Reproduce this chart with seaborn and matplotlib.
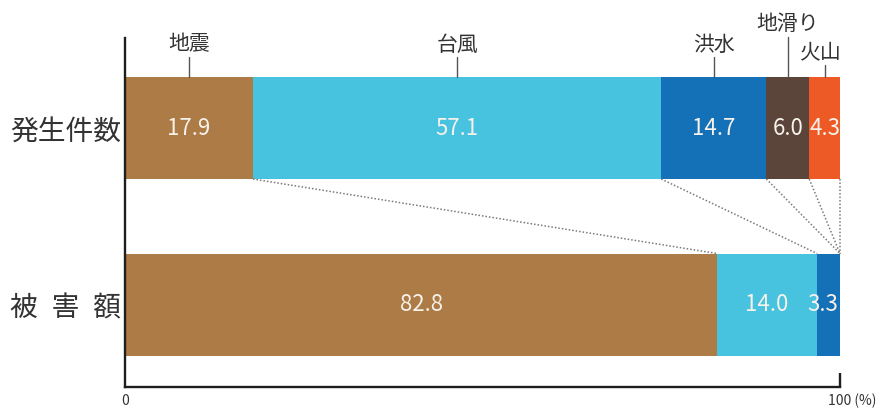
import matplotlib
matplotlib.use("Agg")
import matplotlib.pyplot as plt
import matplotlib.transforms as mtransforms
import seaborn as sns
import pandas as pd
import numpy as np

# data
rows = ["発生件数", "被害額"]
row_labels = ["発生件数", "被\u2002害\u2002額"]
categories = ["地震", "台風", "洪水", "地滑り", "火山"]
counts = [17.9, 57.1, 14.7, 6.0, 4.3]
damage = [82.8, 14.0, 3.3, 0.0, 0.0]
my_palette = ["#ad7b46", "#48c3df", "#1571b7", "#5b4439", "#ee5a26"]

sns.set_style("white")
plt.rcParams['font.family'] = ['Noto Sans CJK JP', 'DejaVu Sans']

values = {rows[0]: counts, rows[1]: damage}
recs = []
for r in rows:
    cum = np.cumsum(values[r])
    for i, c in enumerate(categories):
        recs.append({"row": r, "cat": c, "value": values[r][i], "cum": cum[i],
                     "start": cum[i] - values[r][i]})
df = pd.DataFrame(recs)

fig = plt.figure(figsize=(8.78, 4.09), dpi=100)
ax = fig.add_axes([125/878, 1 - 387/409, 715/878, 349/409])

bar_w = 0.578
# stacked bars: draw cumulative totals from the last category backwards
for i in reversed(range(len(categories))):
    sub = df[df["cat"] == categories[i]]
    sns.barplot(data=sub, x="cum", y="row", order=rows, orient="h",
                color=my_palette[i], saturation=1, width=bar_w,
                linewidth=0, ax=ax)

ax.set_xlim(0, 100)
ax.set_ylim(1.467, -0.51)

# value labels inside the bars
for _, rec in df.iterrows():
    if rec["value"] <= 0:
        continue
    yy = rows.index(rec["row"])
    xc = rec["start"] + rec["value"] / 2
    if rec["value"] < 4:
        xc -= 0.8
    ax.text(xc, yy, f"{rec['value']:.1f}",
            ha="center", va="center", fontsize=16, color="#f6f1ea",
            clip_on=False)

# dotted connector lines between bars
half = bar_w / 2
top_cum = np.cumsum(counts)
bot_cum = np.minimum(np.cumsum(damage), 100)
for a, b in zip(top_cum, bot_cum):
    ax.plot([a, b], [0 + half, 1 - half], ls=(0, (1, 1.3)), color="#7a7a7a",
            lw=1.1, clip_on=False)

# category names with leader lines
label_tops = [-0.40, -0.40, -0.40, -0.515, -0.355]
label_text_y = [-0.41, -0.41, -0.41, -0.525, -0.365]
top_start = top_cum - np.array(counts)
for i, c in enumerate(categories):
    xc = top_start[i] + counts[i] / 2
    ax.plot([xc, xc], [label_tops[i], -half], color="#555555", lw=1.0,
            clip_on=False)
    tx = xc - 0.6 if i == 4 else xc
    ax.text(tx, label_text_y[i], c, ha="center", va="bottom", fontsize=15,
            color="#333333", clip_on=False)

# axes styling
for s in ["top", "right"]:
    ax.spines[s].set_visible(False)
for s in ["left", "bottom"]:
    ax.spines[s].set_linewidth(1.7)
    ax.spines[s].set_color("#1e1e1e")

ax.set_xlabel("")
ax.set_ylabel("")
ax.set_yticks([0, 1])
ax.set_yticklabels(row_labels, fontsize=20, color="#333333")
ax.tick_params(axis="y", length=0, pad=3)

ax.set_xticks([0, 100])
ax.set_xticklabels(["0", "100 (%)"], fontsize=10, color="#333333")
ax.tick_params(axis="x", bottom=True, direction="in", length=10, width=1.7,
               color="#1e1e1e", pad=5)
ax.xaxis.get_major_ticks()[0].tick1line.set_visible(False)
lbl = ax.get_xticklabels()[1]
lbl.set_horizontalalignment("left")
lbl.set_transform(lbl.get_transform() +
                  mtransforms.ScaledTranslation(-12/100, 0, fig.dpi_scale_trans))

fig.savefig("out.png", dpi=100)
plt.close()
